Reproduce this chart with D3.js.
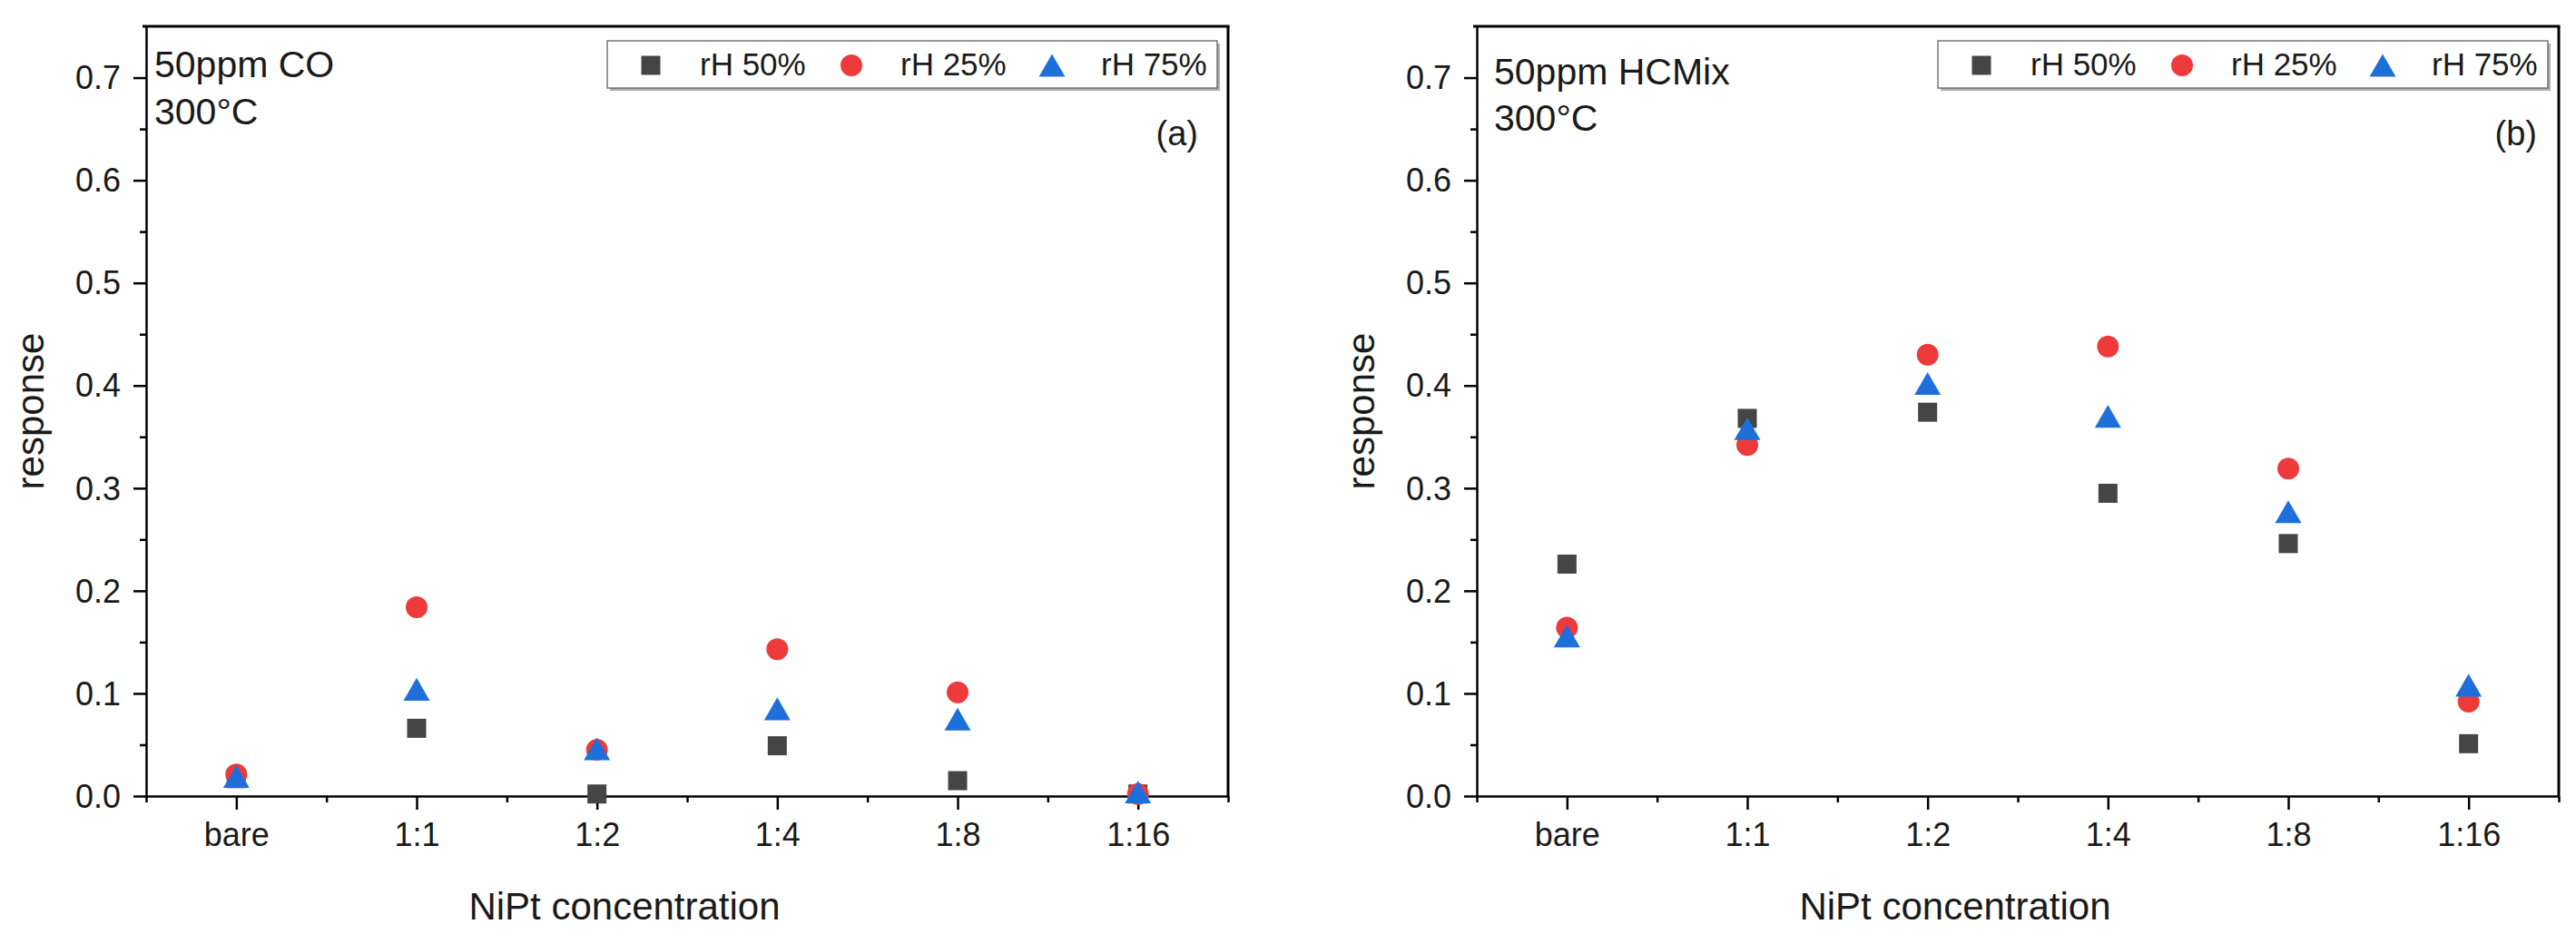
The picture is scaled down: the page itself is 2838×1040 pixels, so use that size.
<!DOCTYPE html>
<html>
<head>
<meta charset="utf-8">
<script src="https://cdn.jsdelivr.net/npm/d3@7"></script>
<style>
  body { margin: 0; background: #fff; }
  svg { display: block; font-family: "Liberation Sans", Arial, sans-serif; }
</style>
</head>
<body>
<svg id="chart" width="2838" height="1040"></svg>
<script>
// categories on the x axis
const categories = ["bare", "1:1", "1:2", "1:4", "1:8", "1:16"];
const seriesNames = ["rH 50%", "rH 25%", "rH 75%"];

// panel (a): 50ppm CO
const coRH50 = [0.017, 0.066, 0.002, 0.049, 0.015, 0.002];
const coRH25 = [0.021, 0.184, 0.045, 0.143, 0.101, 0.002];
const coRH75 = [0.019, 0.104, 0.046, 0.085, 0.075, 0.004];

// panel (b): 50ppm HCMix
const hcRH50 = [0.226, 0.368, 0.374, 0.295, 0.246, 0.051];
const hcRH25 = [0.164, 0.342, 0.430, 0.438, 0.319, 0.092];
const hcRH75 = [0.156, 0.358, 0.402, 0.370, 0.277, 0.108];

const yMajorTicks = [0, 0.1, 0.2, 0.3, 0.4, 0.5, 0.6, 0.7];
const yMinorTicks = [0.05, 0.15, 0.25, 0.35, 0.45, 0.55, 0.65];

const colors = ["#454545", "#ee3a3a", "#1f6fdb"];
const shapes = [d3.symbolSquare, d3.symbolCircle, d3.symbolTriangle];
const sizes = [441, 452, 364];

const panels = [
  { left: 161, right: 1353, gas: "50ppm CO", letter: "(a)", data: [coRH50, coRH25, coRH75],
    ann: { dx: 9, y1: 85, y2: 137 }, letterDx: 33 },
  { left: 1627, right: 2819, gas: "50ppm HCMix", letter: "(b)", data: [hcRH50, hcRH25, hcRH75],
    ann: { dx: 19, y1: 93, y2: 144 }, letterDx: 24 }
];
const plotTop = 29, plotBottom = 877;

const svg = d3.select("#chart");

// triangle drawn with its box centre on the point
function markerTransform(i, x, y) {
  if (i === 2) {
    const h = Math.sqrt(sizes[2] / (Math.sqrt(3) * 3));
    return `translate(${x},${y + h / 2})`;
  }
  return `translate(${x},${y})`;
}

panels.forEach((p) => {
  const g = svg.append("g");

  const x = d3.scaleLinear().domain([-0.5, categories.length - 0.5]).range([p.left, p.right]);
  const y = d3.scaleLinear().domain([0, 0.75]).range([plotBottom, plotTop]);

  // frame top and right
  g.append("line").attr("x1", p.left - 4).attr("x2", p.right + 1.5)
    .attr("y1", plotTop).attr("y2", plotTop).attr("stroke", "#000").attr("stroke-width", 3);
  g.append("line").attr("x1", p.right).attr("x2", p.right)
    .attr("y1", plotTop).attr("y2", plotBottom).attr("stroke", "#000").attr("stroke-width", 3);

  // x axis
  const xAxis = g.append("g").attr("transform", `translate(0,${plotBottom})`)
    .call(d3.axisBottom(x).tickValues(d3.range(categories.length))
      .tickFormat((i) => categories[i]).tickSize(15).tickSizeOuter(0));
  xAxis.selectAll("text").attr("dy", null).attr("y", 55)
    .attr("font-size", 36).attr("fill", "#1a1a1a");
  g.append("g").attr("transform", `translate(0,${plotBottom})`)
    .call(d3.axisBottom(x).tickValues(d3.range(-0.5, categories.length, 1))
      .tickFormat("").tickSize(7).tickSizeOuter(0))
    .select(".domain").remove();

  // y axis
  const yAxis = g.append("g").attr("transform", `translate(${p.left},0)`)
    .call(d3.axisLeft(y).tickValues(yMajorTicks).tickFormat(d3.format(".1f"))
      .tickSize(14).tickPadding(14).tickSizeOuter(0));
  yAxis.selectAll("text").attr("font-size", 36).attr("fill", "#1a1a1a").attr("dy", "0.34em");
  g.append("g").attr("transform", `translate(${p.left},0)`)
    .call(d3.axisLeft(y).tickValues(yMinorTicks).tickFormat("").tickSize(7).tickSizeOuter(0))
    .select(".domain").remove();

  g.selectAll(".domain").attr("stroke", "#000").attr("stroke-width", 2.5);
  g.selectAll(".tick line").attr("stroke", "#000").attr("stroke-width", 2.5);

  // axis titles
  g.append("text")
    .attr("x", (p.left + p.right) / 2 - 69).attr("y", 1013)
    .attr("text-anchor", "middle").attr("font-size", 42).attr("fill", "#1a1a1a")
    .text("NiPt concentration");
  g.append("text")
    .attr("transform", `translate(${p.left - 113},${(plotTop + plotBottom) / 2}) rotate(-90)`)
    .attr("text-anchor", "middle").attr("font-size", 42).attr("fill", "#1a1a1a")
    .text("response");

  // markers
  p.data.forEach((values, i) => {
    g.selectAll(null)
      .data(values)
      .enter()
      .append("path")
      .attr("d", d3.symbol().type(shapes[i]).size(sizes[i]))
      .attr("transform", (d, k) => markerTransform(i, x(k), y(d)))
      .attr("fill", colors[i]);
  });

  // annotation
  g.append("text").attr("x", p.left + p.ann.dx).attr("y", p.ann.y1)
    .attr("font-size", 41).attr("fill", "#1a1a1a").text(p.gas);
  g.append("text").attr("x", p.left + p.ann.dx).attr("y", p.ann.y2)
    .attr("font-size", 41).attr("fill", "#1a1a1a").text("300°C");
  g.append("text").attr("x", p.right - p.letterDx).attr("y", 160)
    .attr("text-anchor", "end").attr("font-size", 38).attr("fill", "#1a1a1a").text(p.letter);

  // legend
  const lx = p.left + 508, lw = p.right - 12 - lx, ly = 45, lh = 52;
  g.append("rect").attr("x", lx + 3).attr("y", ly + 3).attr("width", lw).attr("height", lh)
    .attr("fill", "#b0b0b0");
  g.append("rect").attr("x", lx).attr("y", ly).attr("width", lw).attr("height", lh)
    .attr("fill", "#fff").attr("stroke", "#555").attr("stroke-width", 1.2);
  seriesNames.forEach((name, i) => {
    const ix = lx + 48 + i * 221;
    g.append("path")
      .attr("d", d3.symbol().type(shapes[i]).size(sizes[i]))
      .attr("transform", markerTransform(i, ix, 72))
      .attr("fill", colors[i]);
    g.append("text").attr("x", ix + 54).attr("y", 83)
      .attr("font-size", 35).attr("fill", "#1a1a1a").text(name);
  });
});
</script>
</body>
</html>
